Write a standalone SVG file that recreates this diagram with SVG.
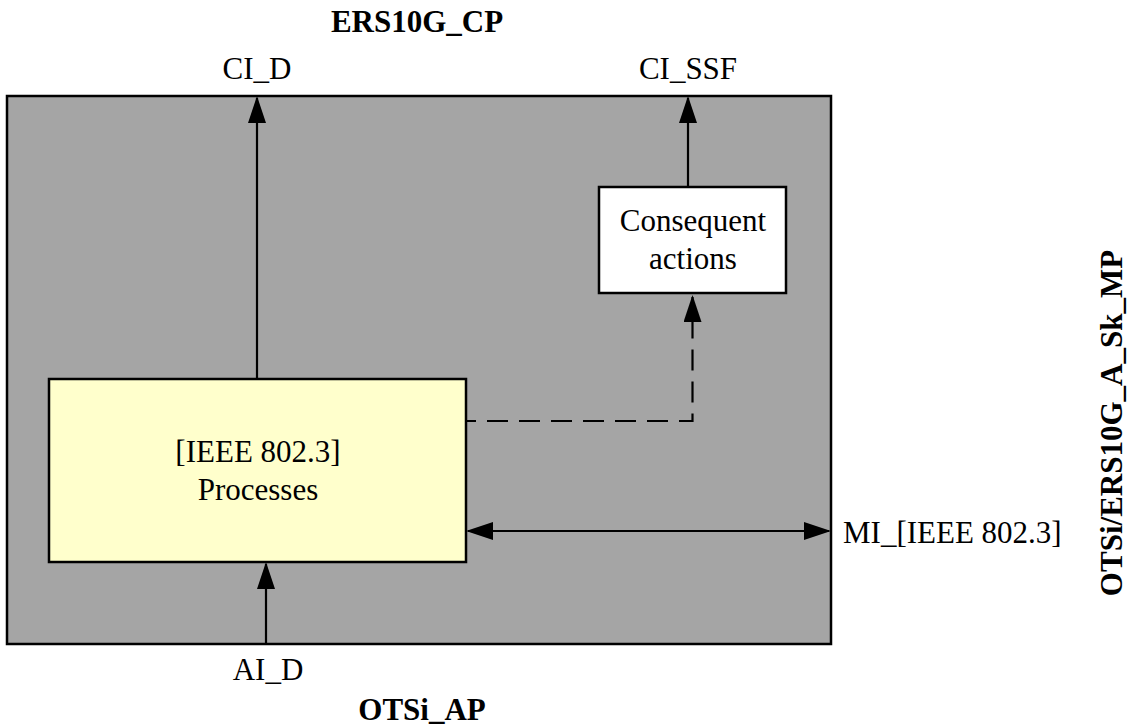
<svg xmlns="http://www.w3.org/2000/svg" width="1137" height="727" viewBox="0 0 1137 727">
<style>
.t{font-family:"Liberation Serif","Times New Roman",serif;font-size:31px;fill:#000}
.b{font-weight:bold}
.box{stroke:#000;stroke-width:2.5}
.ln{fill:none;stroke:#000;stroke-width:2.2}
.dash{stroke-dasharray:21 11;stroke-dashoffset:11}
</style>
<defs>
<marker id="ah" viewBox="0 0 27 18" refX="25" refY="9" markerWidth="27" markerHeight="18" markerUnits="userSpaceOnUse" orient="auto-start-reverse">
<path d="M0,0 L27,9 L0,18 Z" fill="#000"/>
</marker>
</defs>
<rect width="1137" height="727" fill="#fff"/>
<g id="outer">
<rect class="box" x="7" y="96" width="824" height="548" fill="#a5a5a5"/>
</g>
<g id="processes">
<rect class="box" x="49" y="379" width="417" height="183" fill="#ffffcc"/>
<text class="t" x="258" y="462" text-anchor="middle">[IEEE 802.3]</text>
<text class="t" x="258" y="500" text-anchor="middle">Processes</text>
</g>
<g id="consequent">
<rect class="box" x="599" y="187" width="187" height="106" fill="#fff"/>
<text class="t" x="693" y="231" text-anchor="middle">Consequent</text>
<text class="t" x="693" y="269" text-anchor="middle">actions</text>
</g>
<g id="connectors">
<path class="ln" d="M257,379 V98" marker-end="url(#ah)"/>
<path class="ln" d="M688,187 V98" marker-end="url(#ah)"/>
<path class="ln dash" d="M466,421 H692.5 V297" marker-end="url(#ah)"/>
<path class="ln" d="M266,644 V564" marker-end="url(#ah)"/>
<path class="ln" d="M468,531 H829" marker-start="url(#ah)" marker-end="url(#ah)"/>
</g>
<g id="labels">
<text class="t b" x="417" y="32" text-anchor="middle">ERS10G_CP</text>
<text class="t" x="257" y="79" text-anchor="middle">CI_D</text>
<text class="t" x="688" y="79" text-anchor="middle">CI_SSF</text>
<text class="t" x="843" y="543">MI_[IEEE 802.3]</text>
<text class="t" x="268" y="680" text-anchor="middle">AI_D</text>
<text class="t b" x="422" y="720" text-anchor="middle">OTSi_AP</text>
<text class="t b" x="1122" y="423" text-anchor="middle" transform="rotate(-90 1122 423)">OTSi/ERS10G_A_Sk_MP</text>
</g>
</svg>
